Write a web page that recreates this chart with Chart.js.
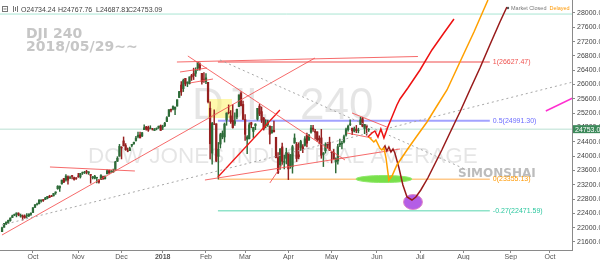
<!DOCTYPE html>
<html>
<head>
<meta charset="utf-8">
<style>
  html, body { margin: 0; padding: 0; background: #fff; }
  #wrap { width: 600px; height: 260px; }
</style>
<script src="https://cdn.jsdelivr.net/npm/chart.js@4.4.1/dist/chart.umd.min.js"></script>
</head>
<body>
<div id="wrap"><canvas id="myChart" width="600" height="260"></canvas></div>
<script>
// daily candles, x = trading day counted from 2 Oct 2017
const firstDay = -15;

const opens = [
  21889,22011,22107,22122,22197,22283,22346,22373,22393,22326,22330,22319,22331,22331,22374,
  22423,22572,22650,22669,22747,22785,22790,22820,22871,22887,22890,22975,23090,23110,23225,23374,23335,23424,23389,23454,23398,23389,
  23442,23418,23539,23531,23574,23530,23487,23400,23380,23399,23336,23341,23422,23365,23505,23595,23557,23553,23608,23855,23998,
  24244,24424,24295,24150,24153,24301,24349,24435,24546,24595,24562,24739,24815,24807,24768,24764,24716,24766,24797,24849,
  24809,24850,24964,25114,25309,25313,25308,25398,25638,25987,25886,26172,26040,26025,26248,26307,26314,26459,26574,26312,26150,
  26084,26062,25338,24085,24894,24902,23993,24337,24540,24535,25012,25226,25124,24996,24912,25097,25384,25752,25445,
  25025,24471,24486,24935,24690,24853,25033,25397,25243,25061,24852,24877,24840,24656,24720,24526,23958,23759,24258,23828,23938,
  24076,23726,23703,24362,24328,24038,24243,24262,24298,24580,24459,24669,24782,24690,24679,24494,24509,24043,24149,24337,24389,
  24117,24097,23836,23865,24317,24341,24399,24591,24742,24886,24780,24699,24748,24714,24883,25048,24771,24864,24735
];
const highs = [
  22016,22123,22159,22209,22275,22352,22382,22413,22419,22382,22357,22358,22393,22386,22414,
  22564,22642,22685,22777,22777,22787,22848,22873,22906,22905,22957,23002,23174,23164,23329,23378,23485,23446,23445,23466,23417,23403,
  23518,23517,23557,23576,23603,23564,23487,23433,23461,23409,23336,23485,23440,23450,23617,23608,23602,23638,23856,23984,24328,
  24266,24535,24350,24228,24250,24330,24390,24552,24672,24669,24668,24876,24830,24839,24849,24777,24773,24790,24838,24871,
  24864,24941,25105,25299,25312,25404,25371,25575,25812,26086,26153,26172,26072,26215,26285,26458,26469,26617,26609,26313,26338,
  26306,26062,25520,24946,25295,24904,24382,24640,24705,24925,25210,25432,25274,25439,25208,25315,25712,25800,25536,
  25161,24572,24933,24946,24807,24906,25336,25449,25376,25082,25018,25004,24840,24833,24977,24526,24101,24213,24362,24022,24221,
  24092,24047,24304,24622,24382,24374,24443,24323,24543,24644,24608,24858,24858,24750,24679,24566,24749,24102,24373,24378,24530,
  24117,24186,23949,24329,24479,24412,24586,24784,24867,25012,24780,24814,24858,24781,25087,25086,24887,24865,24768
];
const lows = [
  21889,22011,22084,22115,22178,22283,22333,22302,22331,22293,22212,22262,22272,22305,22341,
  22423,22559,22630,22662,22713,22731,22783,22805,22840,22866,22884,22932,23071,23011,23218,23261,23303,23216,23373,23363,23331,23347,
  23405,23386,23486,23513,23503,23489,23243,23362,23360,23250,23242,23341,23356,23365,23505,23519,23543,23552,23605,23850,23998,
  23921,24281,24160,24120,24151,24258,24329,24418,24510,24508,24540,24739,24727,24691,24760,24727,24714,24734,24772,24719,
  24741,24825,24963,25112,25235,25293,25160,25398,25638,25698,25804,25964,25942,26014,26115,26139,26225,26398,26405,26014,26058,
  26022,25490,23923,23778,24876,23849,23360,24226,24484,24392,24861,25179,24915,24778,24861,25042,25384,25402,25025,
  24442,24070,24481,24791,24519,24737,25003,25130,24937,24727,24789,24833,24338,24637,24669,23948,23509,23626,23765,23645,23781,
  23344,23660,23523,24362,23849,23924,24156,24094,24281,24254,24432,24640,24690,24475,24412,24340,23939,23708,24083,24225,24155,
  23808,23924,23531,23778,24263,24198,24368,24555,24697,24850,24600,24674,24654,24651,24883,24818,24626,24584,24688
];
const closes = [
  21997,22118,22158,22203,22268,22331,22370,22412,22359,22349,22296,22284,22340,22381,22405,
  22557,22641,22661,22775,22773,22761,22830,22872,22841,22871,22957,22997,23158,23163,23329,23274,23441,23329,23401,23434,23349,23377,
  23436,23517,23539,23548,23557,23563,23462,23422,23440,23409,23271,23458,23358,23430,23591,23526,23558,23580,23836,23940,24272,
  24231,24290,24180,24140,24212,24329,24387,24504,24585,24509,24651,24792,24754,24726,24782,24754,24746,24775,24838,24719,
  24824,24922,25075,25296,25283,25386,25370,25575,25803,25792,26116,26017,26072,26214,26211,26252,26393,26617,26440,26077,26149,
  26187,25521,24346,24913,24893,23860,24191,24601,24640,24893,25201,25219,24964,24798,24963,25310,25710,25410,25029,
  24609,24538,24875,24885,24802,24895,25336,25179,25008,24759,24874,24947,24611,24727,24683,23958,23533,24203,23857,23849,24103,
  23644,24033,24264,24505,23933,23979,24408,24190,24484,24361,24574,24787,24748,24665,24463,24449,24025,24084,24323,24311,24163,
  24100,23925,23930,24263,24358,24361,24543,24740,24831,24900,24707,24769,24714,24715,25013,24835,24887,24812,24753
];

const monthTicks = [0, 22, 43, 63, 84, 103, 124, 145, 167, 188, 209, 232, 251];
const monthLabels = ['Oct', 'Nov', 'Dec', '2018', 'Feb', 'Mar', 'Apr', 'May', 'Jun', 'Jul', 'Aug', 'Sep', 'Oct'];
const priceTicks = [21600, 22000, 22400, 22800, 23200, 23600, 24000, 24400, 24800, 25200, 25600, 26000, 26400, 26800, 27200, 27600, 28000];

const lastBar = [24734.24, 24767.76, 24687.81, 24753.09];
const topLevel = 27970;

// fibonacci retracement between the Feb low and the Jan high
const fibLevels = ['1', '0.5', '0', '-0.27'];
const fibPrices = [26627.47, 24991.30, 23355.13, 22471.59];
const fibSpan = [89.8, 221.8];

// trend lines drawn on the chart, [day, price]
const supportLine = [[-15.05, 21795], [136.9, 26742]];
const dottedLong = [[-15.05, 22075], [262.1, 26071]];
const dottedDown = [[90.8, 26686], [210.7, 23612]];
const novLine = [[8.25, 23696], [49.5, 23584]];
const peakLineA = [[71.4, 26351], [84.5, 26463]];
const peakLineB = [[76.2, 26044], [87.4, 26155]];
const topLine = [[69.9, 26630], [186.9, 26784]];
const fallLine = [[75.2, 26798], [151.5, 23891]];
const febRise = [[89.8, 23416], [119.9, 25289]];
const lowChannel = [[83.5, 23332], [178.2, 24199]];
const marLine = [[115, 23249], [120.9, 23752]];
const mayUpper = [[154.9, 25205], [171.8, 24814]];
const mayLower = [[152.4, 24646], [164.6, 24506]];
const magentaLine = [[249, 25261], [262.1, 25624]];

// hand drawn scenarios
const redPath = [[162.6, 24534], [164.6, 24646], [166.0, 24702], [167.5, 24534], [168.9, 24758], [170.4, 24506], [172.3, 24814],
  [174.3, 25093], [176.7, 25428], [178.2, 25596], [182.0, 25904], [187.9, 26407], [193.7, 26966], [199.5, 27441], [204.4, 27832]];
const orangePath = [[163.1, 24534], [165.5, 24394], [166.5, 24450], [168.4, 24227], [169.4, 24171], [170.4, 24227], [171.4, 23947],
  [172.3, 23556], [172.8, 23332], [174.3, 23444], [176.7, 23752], [181.6, 24171], [186.4, 24562], [191.3, 24953], [196.1, 25401],
  [201.0, 25848], [207.3, 26630], [214.1, 27469], [220.9, 28363]];
const maroonPath = [[169.9, 24199], [170.9, 24283], [171.8, 24143], [172.8, 24255], [173.8, 24115], [174.8, 24199], [175.7, 24087],
  [177.7, 23668], [179.6, 23193], [181.6, 22857], [184.0, 22773], [185.9, 22857], [188.3, 23053], [191.7, 23388], [195.1, 23780],
  [198.5, 24171], [202.4, 24646], [207.3, 25233], [212.1, 25848], [217.0, 26463], [221.8, 27106], [226.7, 27748], [230.1, 28168]];

const yellowBox = [85.0, 96.6, 25596, 25065];
const greenZone = [170.4, 23360, 13.6, 98];
const purpleZone = [184.5, 22717, 4.6, 210];

const days = closes.map((c, i) => firstDay + i);
const upColor = '#2d6b38';
const downColor = '#951f1f';
const candleColors = days.map((d, i) => closes[i] >= opens[i] ? upColor : downColor);

const pts = arr => arr.map(([x, y]) => ({ x, y }));
const lineSet = (arr, color, width, order, extra) => Object.assign({
  type: 'line', data: pts(arr), borderColor: color, borderWidth: width,
  pointRadius: 0, fill: false, tension: 0, order
}, extra || {});

const trendRed = 'rgba(245,80,80,0.85)';

const datasets = [
  { type: 'bar', label: 'bodies', data: days.map((d, i) => ({ x: d, y: [opens[i], closes[i]] })),
    backgroundColor: candleColors, barThickness: 1.6, grouped: false, order: 50 },
  { type: 'bar', label: 'wicks', data: days.map((d, i) => ({ x: d, y: [lows[i], highs[i]] })),
    backgroundColor: candleColors, barThickness: 0.8, grouped: false, order: 51 },

  lineSet([[-16, topLevel], [262, topLevel]], '#a9e5d3', 1, 80),
  lineSet([[-16, lastBar[3]], [262, lastBar[3]]], '#b9e0d2', 1, 80),
  lineSet([[fibSpan[0], fibPrices[0]], [fibSpan[1], fibPrices[0]]], '#f7a5a5', 2, 70),
  lineSet([[fibSpan[0], fibPrices[1]], [fibSpan[1], fibPrices[1]]], '#a3a3ff', 2, 70),
  lineSet([[fibSpan[0], fibPrices[2]], [fibSpan[1], fibPrices[2]]], '#ffc98a', 1.5, 70),
  lineSet([[fibSpan[0], fibPrices[3]], [fibSpan[1], fibPrices[3]]], '#8fe3c9', 1.5, 70),

  lineSet(dottedLong, '#a8a8a8', 1, 40, { borderDash: [2, 3] }),
  lineSet(dottedDown, '#a8a8a8', 1, 40, { borderDash: [2, 3] }),
  lineSet(supportLine, trendRed, 1, 40),
  lineSet(novLine, trendRed, 1, 40),
  lineSet(peakLineA, trendRed, 1, 40),
  lineSet(peakLineB, trendRed, 1, 40),
  lineSet(topLine, trendRed, 1, 40),
  lineSet(fallLine, trendRed, 1, 40),
  lineSet(febRise, '#f01818', 1.3, 40),
  lineSet(lowChannel, trendRed, 1, 40),
  lineSet(marLine, trendRed, 1, 40),
  lineSet(mayUpper, trendRed, 1, 40),
  lineSet(mayLower, trendRed, 1, 40),
  lineSet(magentaLine, '#ff2fd0', 1.5, 40),

  lineSet(maroonPath, '#981a1a', 1.5, 12, { projection: true }),
  lineSet(orangePath, '#ffa000', 1.5, 11, { projection: true }),
  lineSet(redPath, '#ee1111', 1.5, 10, { projection: true })
];

const sans = '"Liberation Sans", Arial, sans-serif';

const overlay = {
  id: 'overlay',
  beforeDraw(chart) {
    const ctx = chart.ctx;
    ctx.save();
    ctx.fillStyle = '#fff';
    ctx.fillRect(0, 0, chart.width, chart.height);
    ctx.restore();
  },
  beforeDatasetsDraw(chart) {
    const { ctx, chartArea, scales: { x, y } } = chart;
    chart.$zonesDone = false;
    ctx.save();
    ctx.beginPath();
    ctx.rect(chartArea.left, chartArea.top, chartArea.right - chartArea.left, chartArea.bottom - chartArea.top);
    ctx.clip();

    ctx.fillStyle = 'rgba(0,0,0,0.1)';
    ctx.font = '44px ' + sans;
    ctx.fillText('DJI,', 192, 119);
    ctx.fillText('240', 300, 119);
    ctx.font = '22.5px ' + sans;
    ctx.fillText('DOW JONES INDUSTRIAL AVERAGE', 88, 163);

    ctx.fillStyle = '#c6c6c6';
    ctx.font = 'bold 14px "DejaVu Sans"';
    ctx.fillText('DJI 240', 26, 38);
    ctx.fillText('2018/05/29~~', 26, 51);
    ctx.fillStyle = '#bcbcbc';
    ctx.font = 'bold 12px "DejaVu Sans"';
    ctx.fillText('SIMONSHAI', 458, 177);

    const bx = x.getPixelForValue(yellowBox[0]);
    const by = y.getPixelForValue(yellowBox[2]);
    ctx.fillStyle = 'rgba(255,242,90,0.5)';
    ctx.fillRect(bx, by, x.getPixelForValue(yellowBox[1]) - bx, y.getPixelForValue(yellowBox[3]) - by);
    ctx.restore();
  },
  beforeDatasetDraw(chart, args) {
    const ds = chart.data.datasets[args.index];
    if (!ds.projection || chart.$zonesDone) return;
    chart.$zonesDone = true;
    const { ctx, scales: { x, y } } = chart;
    const zone = (z, fill, stroke) => {
      const cx = x.getPixelForValue(z[0]);
      const cy = y.getPixelForValue(z[1]);
      const rx = x.getPixelForValue(z[0] + z[2]) - cx;
      const ry = cy - y.getPixelForValue(z[1] + z[3]);
      ctx.beginPath();
      ctx.ellipse(cx, cy, rx, ry, 0, 0, Math.PI * 2);
      ctx.fillStyle = fill;
      ctx.fill();
      ctx.strokeStyle = stroke;
      ctx.lineWidth = 1;
      ctx.stroke();
    };
    ctx.save();
    zone(greenZone, '#78e04a', '#8fe86a');
    zone(purpleZone, '#b45ee6', '#e08ac8');
    ctx.restore();
  },
  afterDatasetsDraw(chart) {
    const { ctx, scales: { x, y } } = chart;
    const fibColors = ['#ef5350', '#6b6bff', '#ff9800', '#2cc79f'];
    ctx.save();
    ctx.font = '7px ' + sans;
    ctx.textBaseline = 'middle';
    const lx = x.getPixelForValue(fibSpan[1]) + 3;
    fibPrices.forEach((p, i) => {
      ctx.fillStyle = fibColors[i];
      ctx.fillText(fibLevels[i] + '(' + p.toFixed(2) + ')', lx, y.getPixelForValue(p));
    });
    ctx.restore();
  },
  afterDraw(chart) {
    const { ctx, chartArea, scales: { y } } = chart;
    ctx.save();
    // last price tag on the price axis
    const py = y.getPixelForValue(lastBar[3]);
    ctx.fillStyle = '#3d8a5b';
    ctx.fillRect(chartArea.right + 1, py - 4, 27, 8);
    ctx.fillStyle = '#fff';
    ctx.font = '7px ' + sans;
    ctx.textBaseline = 'middle';
    ctx.fillText(lastBar[3].toFixed(2), chartArea.right + 3, py + 0.5);

    // legend line
    ctx.strokeStyle = '#777';
    ctx.lineWidth = 1;
    ctx.strokeRect(2.5, 6.5, 5, 5);
    ctx.beginPath();
    ctx.moveTo(3.5, 9); ctx.lineTo(6.5, 9);
    ctx.moveTo(13.5, 6); ctx.lineTo(13.5, 12);
    ctx.moveTo(15.5, 7); ctx.lineTo(15.5, 11);
    ctx.moveTo(17.5, 6); ctx.lineTo(17.5, 12);
    ctx.stroke();
    ctx.fillStyle = '#444';
    ctx.textBaseline = 'alphabetic';
    ctx.font = '7px ' + sans;
    const names = ['O', 'H', 'L', 'C'];
    const starts = [21, 58, 96, 128];
    lastBar.forEach((v, i) => ctx.fillText(names[i] + v.toFixed(2), starts[i], 11.5));

    ctx.fillStyle = '#555';
    ctx.beginPath();
    ctx.arc(508, 8, 1.2, 0, Math.PI * 2);
    ctx.fill();
    ctx.font = '5.5px ' + sans;
    ctx.fillStyle = '#777';
    ctx.fillText('Market Closed', 511, 10);
    const gap = ctx.measureText('Market Closed').width + 3;
    ctx.fillStyle = '#ff9800';
    ctx.fillText('Delayed', 511 + gap, 10);
    ctx.restore();
  }
};

new Chart(document.getElementById('myChart'), {
  type: 'bar',
  data: { datasets },
  options: {
    responsive: false,
    maintainAspectRatio: false,
    devicePixelRatio: 1,
    animation: false,
    layout: { padding: 0 },
    plugins: { legend: { display: false }, tooltip: { enabled: false }, title: { display: false } },
    scales: {
      x: {
        type: 'linear', position: 'bottom', min: -16, max: 261.7, offset: false,
        grid: { drawOnChartArea: false, offset: false, tickLength: 3, color: '#8a8a8a' },
        border: { color: '#8a8a8a' },
        ticks: {
          autoSkip: false, maxRotation: 0, padding: 0, color: '#555',
          font: ctx => ({ family: sans, size: 7, weight: ctx.index === 3 ? 'bold' : 'normal' }),
          callback: (v, i) => monthLabels[i]
        },
        afterBuildTicks: axis => { axis.ticks = monthTicks.map(v => ({ value: v })); },
        afterFit: axis => { axis.height = 10; axis.paddingLeft = 0; axis.paddingRight = 0; }
      },
      y: {
        type: 'linear', position: 'right', min: 21376, max: 28363, beginAtZero: false,
        grid: { drawOnChartArea: false, tickLength: 3, color: '#8a8a8a' },
        border: { color: '#8a8a8a' },
        ticks: { color: '#444', padding: 2, font: { family: sans, size: 7 }, callback: v => v.toFixed(2) },
        afterBuildTicks: axis => { axis.ticks = priceTicks.map(v => ({ value: v })); },
        afterFit: axis => { axis.width = 28; axis.paddingTop = 0; axis.paddingBottom = 0; }
      }
    }
  },
  plugins: [overlay]
});
</script>
</body>
</html>
